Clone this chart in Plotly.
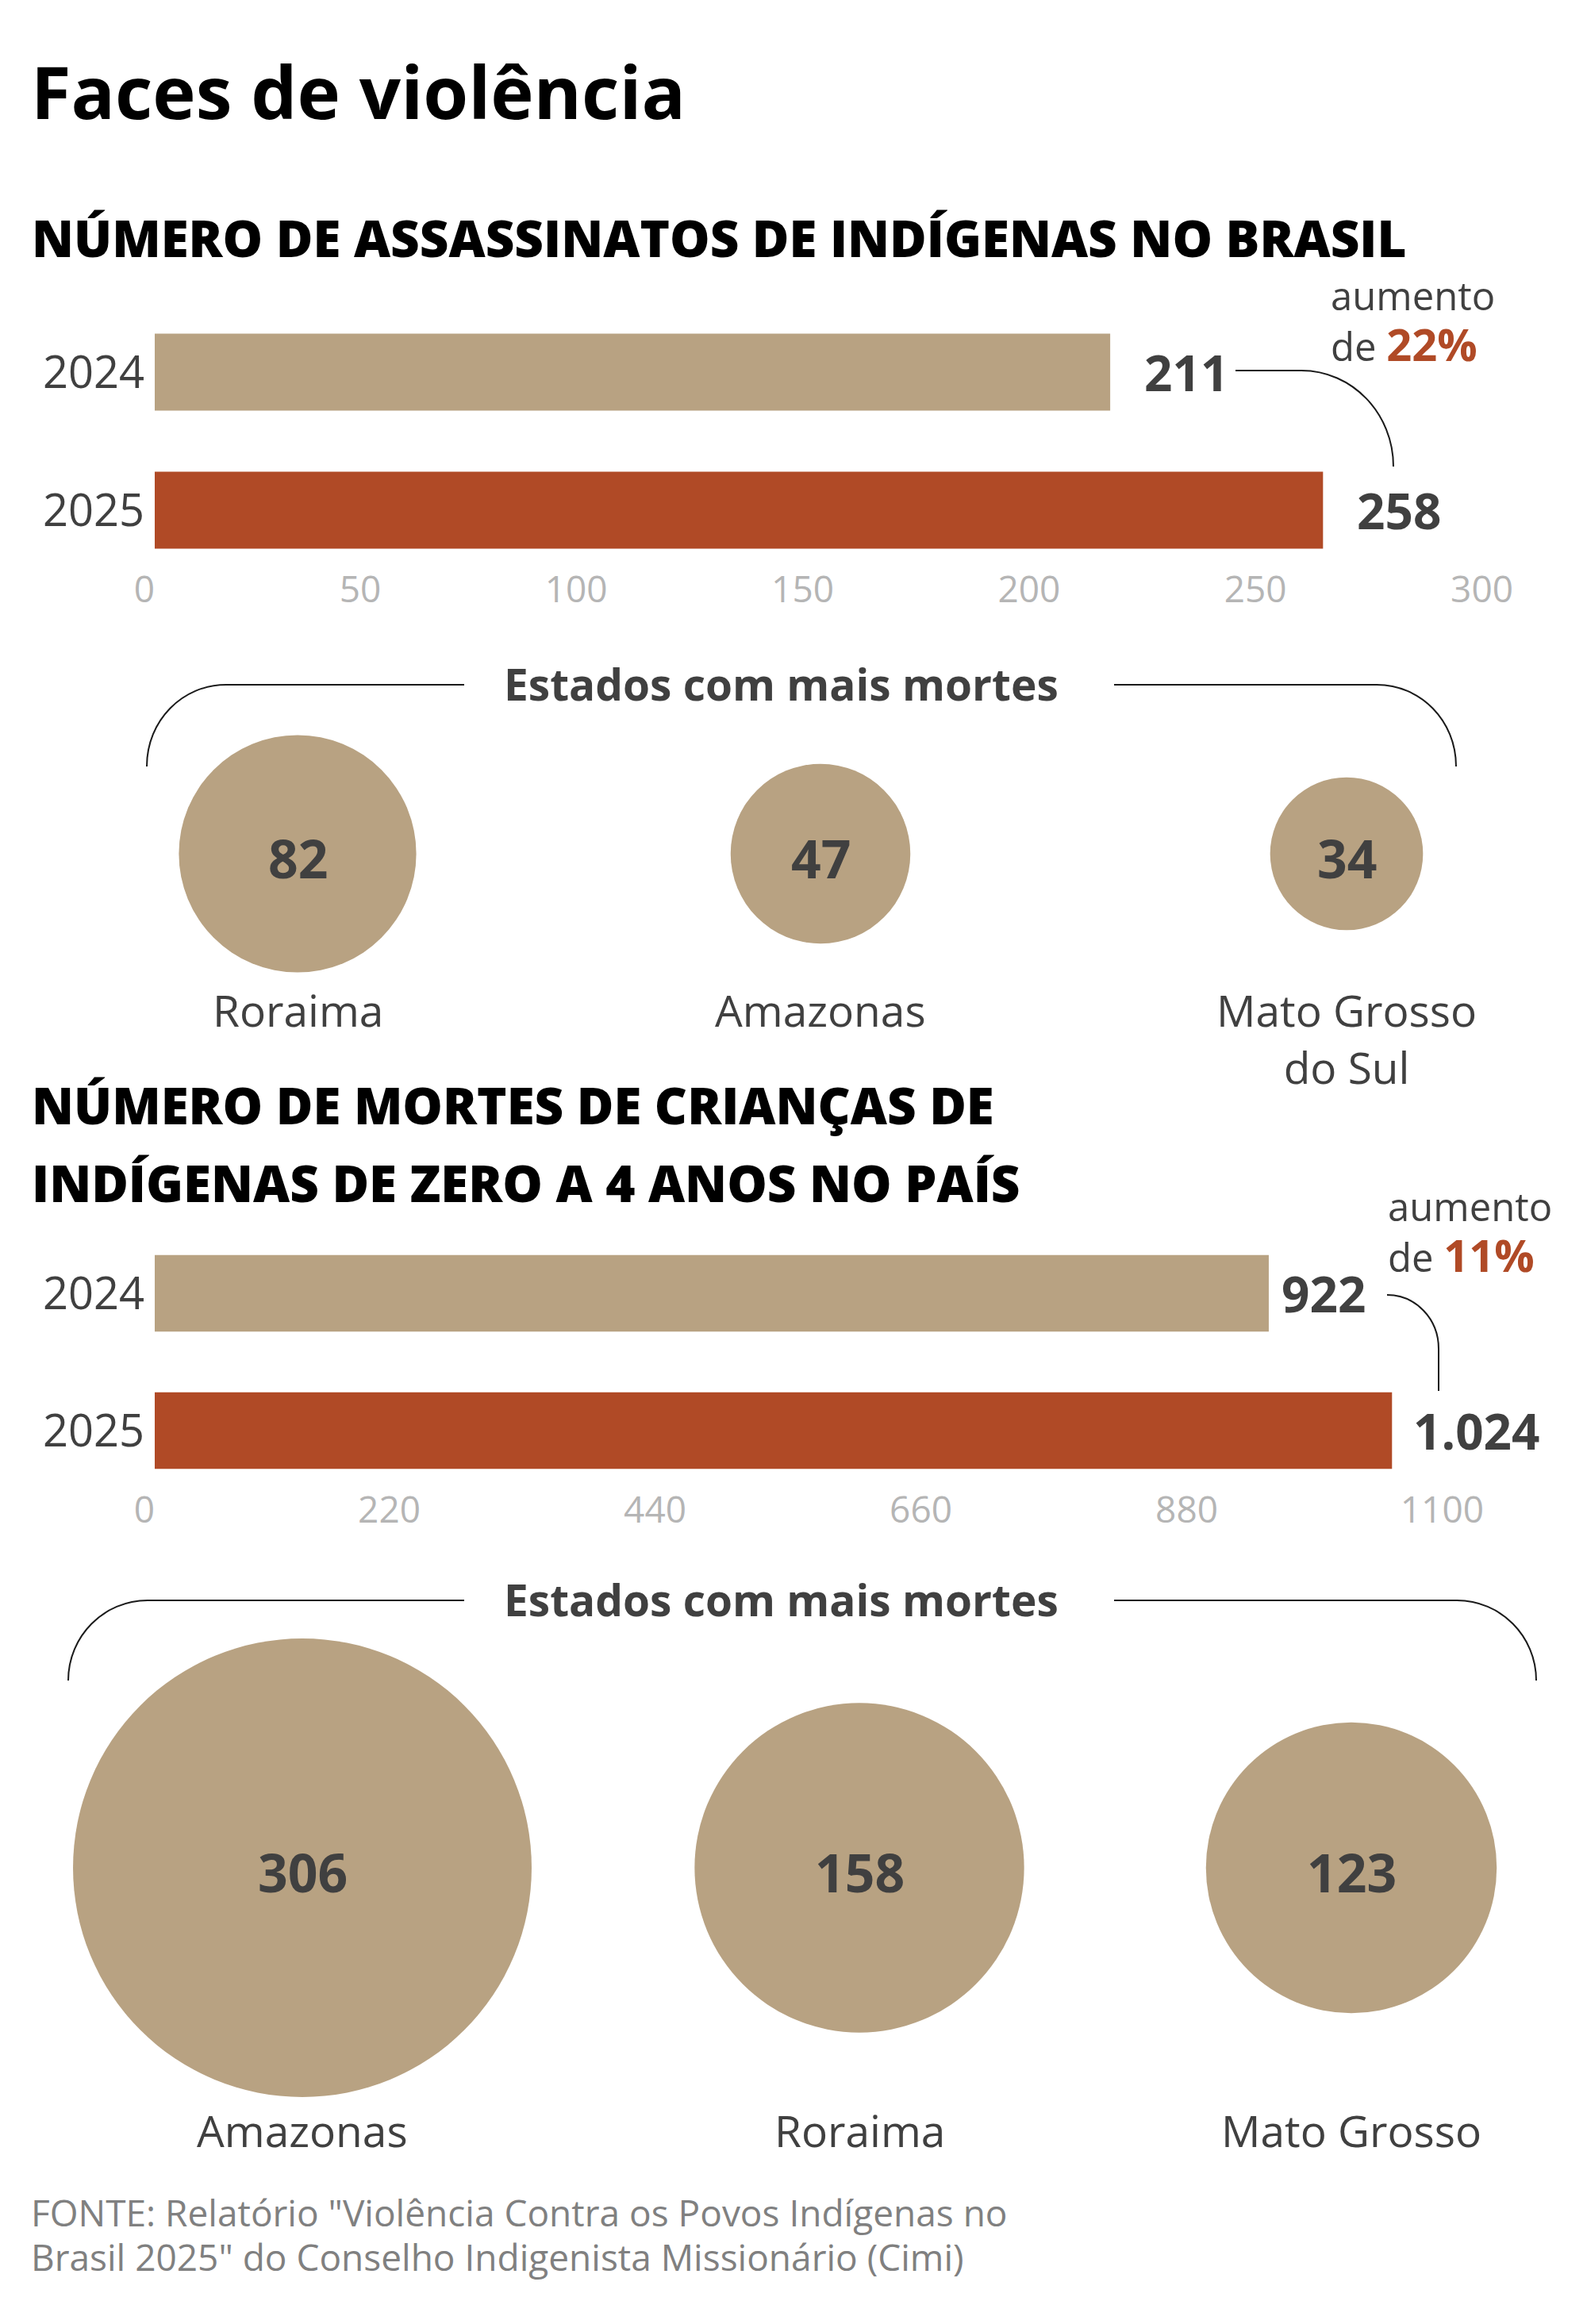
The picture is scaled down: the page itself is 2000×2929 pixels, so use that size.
import plotly.graph_objects as go

W, H = 2000, 2929

# dados
anos = ['2024', '2025']
assassinatos = [211, 258]
mortes_criancas = [922, 1024]
ticks_assassinatos = [0, 50, 100, 150, 200, 250, 300]
ticks_criancas = [0, 220, 440, 660, 880, 1100]

estados_assassinatos = ['Roraima', 'Amazonas', 'Mato Grosso<br>do Sul']
mortes_estado_assassinatos = [82, 47, 34]
estados_criancas = ['Amazonas', 'Roraima', 'Mato Grosso']
mortes_estado_criancas = [306, 158, 123]

fonte = ['FONTE: Relatório "Violência Contra os Povos Indígenas no',
         'Brasil 2025" do Conselho Indigenista Missionário (Cimi)']

# estilo
TAN = '#b8a282'
RUST = '#b04a26'
DARK = '#404040'
GRAY = '#b5b5b5'
FONT = 'Open Sans'
BUBBLE_PX = 33.04  # diametro por raiz do valor


def fy(y):
    return 1 - y / H


def fmt(v):
    return f'{v:,}'.replace(',', '.')


pos = list(range(len(anos)))

fig = go.Figure()

# barras
fig.add_trace(go.Bar(x=assassinatos, y=pos, orientation='h', marker_color=[TAN, RUST],
                     marker_line_width=0, xaxis='x', yaxis='y', hoverinfo='skip'))
fig.add_trace(go.Bar(x=mortes_criancas, y=pos, orientation='h', marker_color=[TAN, RUST],
                     marker_line_width=0, xaxis='x2', yaxis='y2', hoverinfo='skip'))

# bolhas (area proporcional ao valor)
bubble_x1 = [375, 1034, 1697]
bubble_x2 = [381, 1083, 1703]
bolhas = [(bubble_x1, mortes_estado_assassinatos, 1076),
          (bubble_x2, mortes_estado_criancas, 2354)]
for xs, vals, cy in bolhas:
    fig.add_trace(go.Scatter(
        x=xs, y=[cy] * len(vals), mode='markers',
        marker=dict(size=vals, sizemode='area', sizeref=2 / BUBBLE_PX ** 2,
                    color=TAN, opacity=1, line_width=0),
        xaxis='x3', yaxis='y3', hoverinfo='skip'))

axis_common = dict(showgrid=False, zeroline=False, showline=False, ticks='', automargin=False)
y_common = dict(axis_common, type='linear', range=[1.5, -0.5], tickvals=pos, ticktext=anos,
                ticklabelstandoff=12, tickfont=dict(family=FONT, size=56, color=DARK))

fig.update_layout(
    width=W, height=H, margin=dict(l=0, r=0, t=0, b=0, autoexpand=False),
    paper_bgcolor='white', plot_bgcolor='rgba(0,0,0,0)',
    showlegend=False, bargap=0.443,
    xaxis=dict(axis_common, domain=[195 / W, 1907 / W], range=[0, 300],
               tickvals=ticks_assassinatos, ticklabelposition='outside left',
               anchor='free', position=fy(712),
               tickfont=dict(family=FONT, size=46, color=GRAY)),
    yaxis=dict(y_common, domain=[fy(730), fy(382)], anchor='x'),
    xaxis2=dict(axis_common, domain=[195 / W, 1870 / W], range=[0, 1100],
                tickvals=ticks_criancas, ticklabelposition='outside left',
                anchor='free', position=fy(1872),
                tickfont=dict(family=FONT, size=46, color=GRAY)),
    yaxis2=dict(y_common, domain=[fy(1889.5), fy(1543.5)], anchor='x2'),
    xaxis3=dict(visible=False, automargin=False, domain=[0, 1], range=[0, W]),
    yaxis3=dict(visible=False, automargin=False, domain=[0, 1], range=[H, 0]),
)

ann = []


def txt(text, x, y, size, color=DARK, weight='normal', xanchor='left', yanchor='middle',
        yshift=0):
    ann.append(dict(text=text, x=x, y=y, xref='x3', yref='y3', showarrow=False,
                    xanchor=xanchor, yanchor=yanchor, yshift=yshift,
                    align=xanchor if xanchor != 'center' else 'center',
                    font=dict(family=FONT, size=size, color=color, weight=weight)))


txt('Faces de violência', 37, 114, 92, color='#000000', weight='bold')
txt('NÚMERO DE ASSASSINATOS DE INDÍGENAS NO BRASIL', 38, 299, 63.6, color='#000000', weight=800)
txt('NÚMERO DE MORTES DE CRIANÇAS DE', 38, 1392, 63.6, color='#000000', weight=800)
txt('INDÍGENAS DE ZERO A 4 ANOS NO PAÍS', 38, 1490, 63.6, color='#000000', weight=800)

# valores nas barras
for vals, xr, yr, shifts in [(assassinatos, 'x', 'y', [41, 41]),
                             (mortes_criancas, 'x2', 'y2', [14, 25])]:
    for p, v, s in zip(pos, vals, shifts):
        ann.append(dict(text=fmt(v), x=v, y=p, xref=xr, yref=yr, showarrow=False,
                        xanchor='left', yanchor='middle', xshift=s,
                        font=dict(family=FONT, size=62, color=DARK, weight='bold')))

# numeros dentro das bolhas
for xs, vals, cy in bolhas:
    for x, v in zip(xs, vals):
        txt(str(v), x, cy, 66, weight='bold', xanchor='center', yshift=-5)

# aumento percentual
for vals, x, ybot in [(assassinatos, 1675, 473), (mortes_criancas, 1747, 1621)]:
    pct = round((vals[1] / vals[0] - 1) * 100)
    txt(f'aumento<br>de <b><span style="color:{RUST};font-size:56px">{pct}%</span></b>',
        x, ybot, 49, yanchor='bottom')

# titulos das bolhas
txt('Estados com mais mortes', 984, 861, 55, weight='bold', xanchor='center')
txt('Estados com mais mortes', 984, 2015, 55, weight='bold', xanchor='center')

# nomes dos estados
for xs, nomes, y in [(bubble_x1, estados_assassinatos, 1233), (bubble_x2, estados_criancas, 2645)]:
    for x, nome in zip(xs, nomes):
        txt(nome, x, y, 55, xanchor='center', yanchor='top')

txt(fonte[0], 37, 2788, 46, color='#808080')
txt(fonte[1], 37, 2844, 46, color='#808080')

fig.update_layout(annotations=ann)

# conectores e chaves
line = dict(color='#1a1a1a', width=2)
paths = [
    'M1557,467 L1640,467 C1704,467 1756,521 1756,588',
    'M1748,1632 C1784,1632 1813,1662 1813,1700 L1813,1753',
    'M585,863 L285,863 C230,863 185,908 185,966',
    'M1404,863 L1735,863 C1790,863 1835,908 1835,966',
    'M585,2017 L186,2017 C131,2017 86,2062 86,2118',
    'M1404,2017 L1836,2017 C1891,2017 1936,2062 1936,2118',
]
fig.update_layout(shapes=[dict(type='path', path=p, xref='x3', yref='y3', line=line)
                          for p in paths])

fig.write_html('out.html', config={'displayModeBar': False},
               post_script="document.body.style.margin='0px';"
                           "document.body.style.overflow='hidden';")
